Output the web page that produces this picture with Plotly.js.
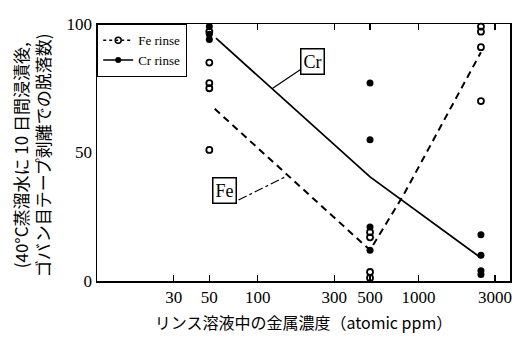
<!DOCTYPE html>
<html><head><meta charset="utf-8">
<script src="https://cdn.plot.ly/plotly-3.0.1.min.js"></script>
<style>body{margin:0;background:#fff}#c{width:519px;height:343px}</style>
</head><body><div id="c"></div>
<script>
// Fe rinse (open circles)
const feX = [50, 50, 50, 50, 50, 500, 500, 500, 500, 2450, 2450, 2450, 2450];
const feY = [97, 85, 77, 75, 51, 19, 17, 3.5, 1.2, 99, 97, 91, 70];
// Cr rinse (filled circles)
const crX = [50, 50, 50, 500, 500, 500, 500, 2450, 2450, 2450, 2450];
const crY = [99, 96, 94, 77, 55, 21, 12, 18, 10, 4, 2.5];
// trend curves
const feCurveX = [54, 500, 800, 2450];
const feCurveY = [67, 12, 33, 89];
const crCurveX = [55, 500, 2450];
const crCurveY = [94.5, 40.5, 9];
// leader line of the "Fe" label
const feLeaderX = [76, 148];
const feLeaderY = [31.5, 40.5];
const xTicks = [30, 50, 100, 300, 500, 1000, 3000];
const yTicks = [0, 50, 100];

const serif = 'Liberation Serif, Times New Roman, serif';
const jp = 'Noto Sans CJK JP, sans-serif';

const traces = [
  {x: feCurveX, y: feCurveY, mode: 'lines', line: {color: '#000', width: 2, dash: '7px,5px'}, showlegend: false, hoverinfo: 'skip'},
  {x: crCurveX, y: crCurveY, mode: 'lines', line: {color: '#000', width: 1.8}, showlegend: false, hoverinfo: 'skip'},
  {x: feLeaderX, y: feLeaderY, mode: 'lines', line: {color: '#000', width: 1.2, dash: 'dashdot'}, showlegend: false, hoverinfo: 'skip'},
  {x: feX, y: feY, mode: 'markers', marker: {symbol: 'circle-open', size: 6, color: '#000', line: {width: 1.8, color: '#000'}}, showlegend: false, cliponaxis: false},
  {x: crX, y: crY, mode: 'markers', marker: {symbol: 'circle', size: 7, color: '#000'}, showlegend: false, cliponaxis: false},
  {x: [null], y: [null], name: 'Fe rinse', mode: 'lines+markers', line: {color: '#000', width: 1.5, dash: 'dot'}, marker: {symbol: 'circle-open', size: 6, color: '#000', line: {width: 1.5}}},
  {x: [null], y: [null], name: 'Cr rinse', mode: 'lines+markers', line: {color: '#000', width: 1.5}, marker: {symbol: 'circle', size: 6, color: '#000'}}
];

const L10 = Math.log10;
const layout = {
  width: 519, height: 343,
  margin: {l: 97, r: 9, t: 24, b: 62},
  paper_bgcolor: '#fff', plot_bgcolor: '#fff',
  font: {family: serif, color: '#000', size: 16},
  showlegend: true,
  legend: {x: 0, y: 1, xanchor: 'left', yanchor: 'top', bordercolor: '#000', borderwidth: 1.2,
           bgcolor: '#fff', font: {family: serif, size: 13}, itemwidth: 30, tracegroupgap: 0},
  xaxis: {type: 'log', range: [1, 3.57], tickvals: xTicks, ticktext: xTicks.map(String),
          ticks: 'inside', ticklen: 6, tickwidth: 1.2, tickcolor: '#000',
          showline: true, linecolor: '#000', linewidth: 1.5, mirror: 'ticks',
          showgrid: false, zeroline: false, tickfont: {family: serif, size: 17},
          title: {text: 'リンス溶液中の金属濃度（atomic ppm）', font: {family: jp, size: 16}, standoff: 12}},
  yaxis: {range: [0, 100], tickvals: yTicks, ticktext: yTicks.map(String), ticks: '',
          showline: true, linecolor: '#000', linewidth: 1.5, mirror: true,
          showgrid: false, zeroline: false, tickfont: {family: serif, size: 17}},
  annotations: [
    {xref: 'paper', yref: 'paper', x: -0.186, y: 0.49, text: '(40°C蒸溜水に 10 日間浸漬後,', textangle: -90,
     showarrow: false, font: {family: jp, size: 17}, xanchor: 'center', yanchor: 'middle'},
    {xref: 'paper', yref: 'paper', x: -0.133, y: 0.49, text: 'ゴバン目テープ剥離での脱落数)', textangle: -90,
     showarrow: false, font: {family: jp, size: 17}, xanchor: 'center', yanchor: 'middle'},
    {x: L10(124), y: 75, xref: 'x', yref: 'y', text: 'Cr', showarrow: true, arrowhead: 0, arrowwidth: 1.2,
     ax: 40, ay: -27, bordercolor: '#000', borderwidth: 1.5, borderpad: 2, bgcolor: '#fff',
     font: {family: serif, size: 18}},
    {x: L10(62), y: 35.4, xref: 'x', yref: 'y', text: 'Fe', showarrow: false,
     bordercolor: '#000', borderwidth: 1.5, borderpad: 2, bgcolor: '#fff', font: {family: serif, size: 18}}
  ]
};
Plotly.newPlot('c', traces, layout, {displayModeBar: false, staticPlot: true});
</script></body></html>
